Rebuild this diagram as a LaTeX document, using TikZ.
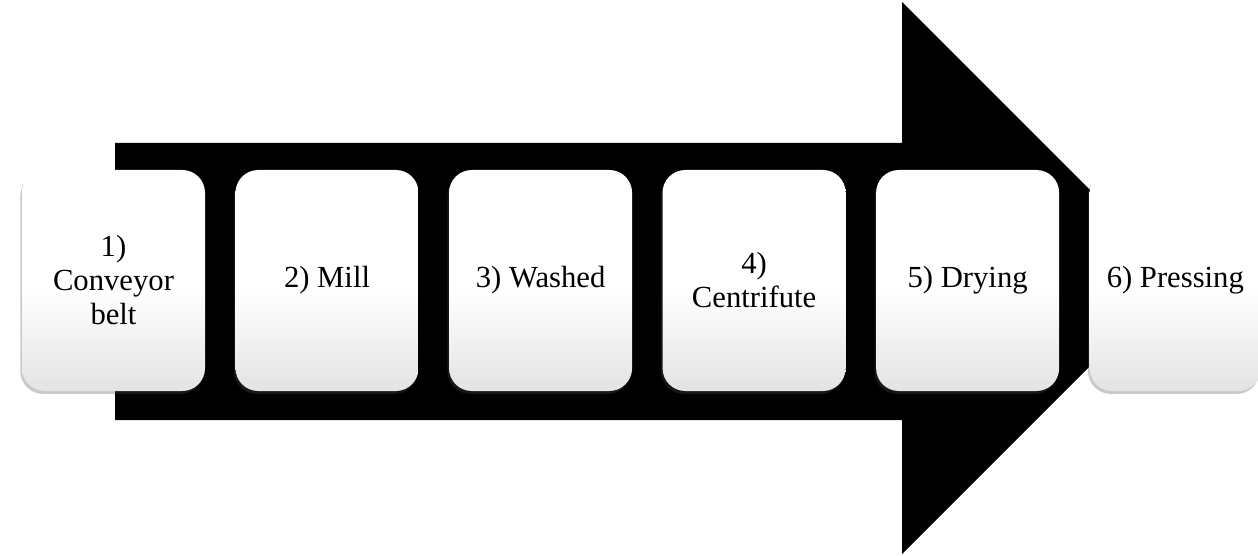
\documentclass[tikz,border=0pt]{standalone}
\usepackage{fontspec}
\setmainfont{Liberation Serif}
\usetikzlibrary{positioning,shadows}
\pgfdeclareverticalshading{stagefill}{100bp}{color(0bp)=(black!11);
    color(25bp)=(black!11); color(48bp)=(white); color(100bp)=(white)}

\begin{document}
\begin{tikzpicture}[x=0.75pt, y=-0.75pt,
    stage/.style={rectangle, rounded corners=17pt, minimum width=137.25pt,
        minimum height=165.75pt, inner sep=0pt, align=center,
        font=\fontsize{23}{25.5}\selectfont, shading=stagefill,
        drop shadow={shadow xshift=-1.2pt, shadow yshift=-2.2pt,
            opacity=0.3, fill=black!70}}]
        \useasboundingbox (0, 0) rectangle (1258, 556);

        % process arrow
        \fill (115, 143) -- (902, 143) -- (902, 2) -- (1178, 278)
            -- (902, 554) -- (902, 420) -- (115, 420) -- cycle;

        \node[stage] (conveyor) at (113.5, 280.5) {1)\\Conveyor\\belt};
        \node[stage, right=22.5pt of conveyor] (mill) {2) Mill};
        \node[stage, right=22.5pt of mill] (washed) {3) Washed};
        \node[stage, right=22.5pt of washed] (centri) {4)\\Centrifute};
        \node[stage, right=22.5pt of centri] (drying) {5) Drying};
        \node[stage, right=22.5pt of drying, minimum width=128.5pt] (pressing) {6) Pressing};
    \end{tikzpicture}
\end{document}
